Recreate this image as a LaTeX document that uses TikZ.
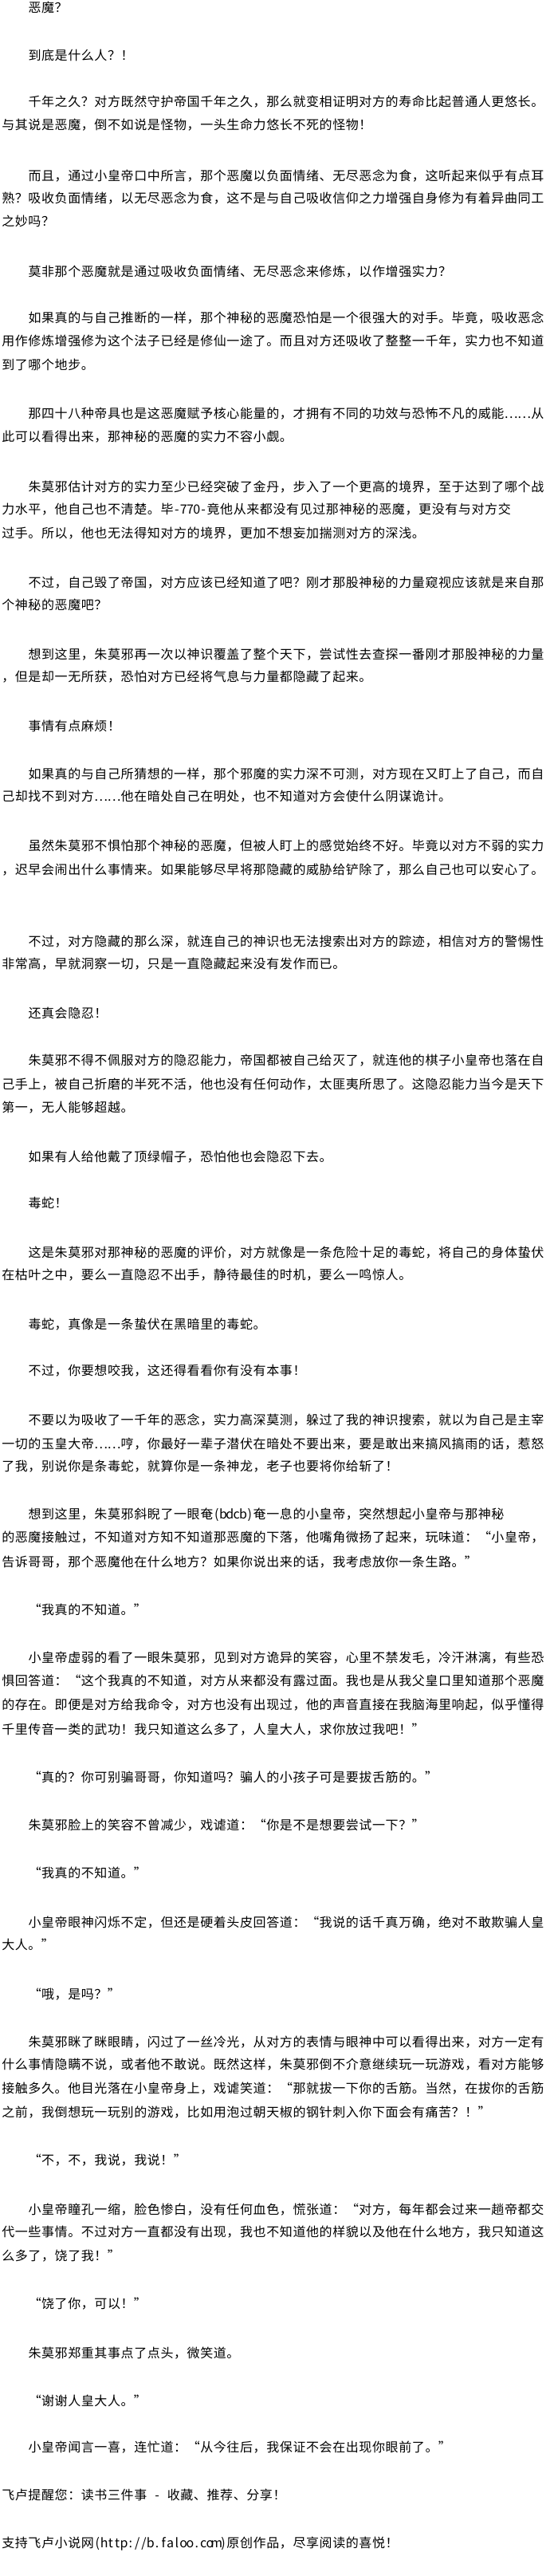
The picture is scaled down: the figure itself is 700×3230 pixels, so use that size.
\documentclass[tikz,border=0pt]{standalone}
\usepackage{fontspec}
\newfontfamily\cjk{Noto Sans CJK SC}
\newdimen\fw \fw=16.6pt
\newdimen\hw \hw=8.3pt
\def\hsp{\relax}
\makeatletter
\def\gl#1{\gl@a#1\relax}
\def\gl@a#1{\ifx\relax#1\else\gl@c{#1}\expandafter\gl@a\fi}
\def\gl@c#1{\ifx\hsp#1\hbox to\hw{}\else
  \ifnum`#1<256 \hbox to\hw{\hss#1\hss}\else
  \ifnum`#1=8220 \hbox to\fw{\hss#1}\else
  \ifnum`#1=8221 \hbox to\fw{#1\hss}\else
  \hbox to\fw{\hss#1\hss}\fi\fi\fi\fi}
\makeatother
\tikzset{
  txt/.style={anchor=base west, inner sep=0pt, outer sep=0pt, yshift=-6pt,
    font=\cjk\fontsize{16}{16}\selectfont, text=black}
}
\newcommand\Pl[3]{\node[txt] (#1) at (35.2pt,-#2pt) {\gl{#3}};}
\newcommand\Cl[3]{\node[txt] (#1) at (2pt,-#2pt) {\gl{#3}};}
\begin{document}
\begin{tikzpicture}
\fill[white] (0,0) rectangle (700pt,-3230pt);
\useasboundingbox (0,0) rectangle (700pt,-3230pt);
\Pl{l1}{10}{恶魔？}
\Pl{l2}{70}{到底是什么人？！}
\Pl{l3}{128}{千年之久？对方既然守护帝国千年之久，那么就变相证明对方的寿命比起普通人更悠长。}
\Cl{l4}{157}{与其说是恶魔，倒不如说是怪物，一头生命力悠长不死的怪物！}
\Pl{l5}{220}{而且，通过小皇帝口中所言，那个恶魔以负面情绪、无尽恶念为食，这听起来似乎有点耳}
\Cl{l6}{248}{熟？吸收负面情绪，以无尽恶念为食，这不是与自己吸收信仰之力增强自身修为有着异曲同工}
\Cl{l7}{277}{之妙吗？}
\Pl{l8}{340}{莫非那个恶魔就是通过吸收负面情绪、无尽恶念来修炼，以作增强实力？}
\Pl{l9}{398}{如果真的与自己推断的一样，那个神秘的恶魔恐怕是一个很强大的对手。毕竟，吸收恶念}
\Cl{l10}{427}{用作修炼增强修为这个法子已经是修仙一途了。而且对方还吸收了整整一千年，实力也不知道}
\Cl{l11}{457}{到了哪个地步。}
\Pl{l12}{518}{那四十八种帝具也是这恶魔赋予核心能量的，才拥有不同的功效与恐怖不凡的威能……从}
\Cl{l13}{547}{此可以看得出来，那神秘的恶魔的实力不容小觑。}
\Pl{l14}{610}{朱莫邪估计对方的实力至少已经突破了金丹，步入了一个更高的境界，至于达到了哪个战}
\Cl{l15}{638}{力水平，他自己也不清楚。毕-770-竟他从来都没有见过那神秘的恶魔，更没有与对方交}
\Cl{l16}{668}{过手。所以，他也无法得知对方的境界，更加不想妄加揣测对方的深浅。}
\Pl{l17}{730}{不过，自己毁了帝国，对方应该已经知道了吧？刚才那股神秘的力量窥视应该就是来自那}
\Cl{l18}{758}{个神秘的恶魔吧？}
\Pl{l19}{820}{想到这里，朱莫邪再一次以神识覆盖了整个天下，尝试性去查探一番刚才那股神秘的力量}
\Cl{l20}{848}{，但是却一无所获，恐怕对方已经将气息与力量都隐藏了起来。}
\Pl{l21}{910}{事情有点麻烦！}
\Pl{l22}{970}{如果真的与自己所猜想的一样，那个邪魔的实力深不可测，对方现在又盯上了自己，而自}
\Cl{l23}{998}{己却找不到对方……他在暗处自己在明处，也不知道对方会使什么阴谋诡计。}
\Pl{l24}{1060}{虽然朱莫邪不惧怕那个神秘的恶魔，但被人盯上的感觉始终不好。毕竟以对方不弱的实力}
\Cl{l25}{1090}{，迟早会闹出什么事情来。如果能够尽早将那隐藏的威胁给铲除了，那么自己也可以安心了。}
\Pl{l26}{1180}{不过，对方隐藏的那么深，就连自己的神识也无法搜索出对方的踪迹，相信对方的警惕性}
\Cl{l27}{1208}{非常高，早就洞察一切，只是一直隐藏起来没有发作而已。}
\Pl{l28}{1270}{还真会隐忍！}
\Pl{l29}{1329}{朱莫邪不得不佩服对方的隐忍能力，帝国都被自己给灭了，就连他的棋子小皇帝也落在自}
\Cl{l30}{1359}{己手上，被自己折磨的半死不活，他也没有任何动作，太匪夷所思了。这隐忍能力当今是天下}
\Cl{l31}{1388}{第一，无人能够超越。}
\Pl{l32}{1450}{如果有人给他戴了顶绿帽子，恐怕他也会隐忍下去。}
\Pl{l33}{1508}{毒蛇！}
\Pl{l34}{1570}{这是朱莫邪对那神秘的恶魔的评价，对方就像是一条危险十足的毒蛇，将自己的身体蛰伏}
\Cl{l35}{1598}{在枯叶之中，要么一直隐忍不出手，静待最佳的时机，要么一鸣惊人。}
\Pl{l36}{1660}{毒蛇，真像是一条蛰伏在黑暗里的毒蛇。}
\Pl{l37}{1718}{不过，你要想咬我，这还得看看你有没有本事！}
\Pl{l38}{1780}{不要以为吸收了一千年的恶念，实力高深莫测，躲过了我的神识搜索，就以为自己是主宰}
\Cl{l39}{1810}{一切的玉皇大帝……哼，你最好一辈子潜伏在暗处不要出来，要是敢出来搞风搞雨的话，惹怒}
\Cl{l40}{1838}{了我，别说你是条毒蛇，就算你是一条神龙，老子也要将你给斩了！}
\Pl{l41}{1898}{想到这里，朱莫邪斜睨了一眼奄(bdcb)奄一息的小皇帝，突然想起小皇帝与那神秘}
\Cl{l42}{1927}{的恶魔接触过，不知道对方知不知道那恶魔的下落，他嘴角微扬了起来，玩味道：“小皇帝，}
\Cl{l43}{1958}{告诉哥哥，那个恶魔他在什么地方？如果你说出来的话，我考虑放你一条生路。”}
\Pl{l44}{2018}{“我真的不知道。”}
\Pl{l45}{2078}{小皇帝虚弱的看了一眼朱莫邪，见到对方诡异的笑容，心里不禁发毛，冷汗淋漓，有些恐}
\Cl{l46}{2107}{惧回答道：“这个我真的不知道，对方从来都没有露过面。我也是从我父皇口里知道那个恶魔}
\Cl{l47}{2137}{的存在。即便是对方给我命令，对方也没有出现过，他的声音直接在我脑海里响起，似乎懂得}
\Cl{l48}{2168}{千里传音一类的武功！我只知道这么多了，人皇大人，求你放过我吧！”}
\Pl{l49}{2228}{“真的？你可别骗哥哥，你知道吗？骗人的小孩子可是要拔舌筋的。”}
\Pl{l50}{2288}{朱莫邪脸上的笑容不曾减少，戏谑道：“你是不是想要尝试一下？”}
\Pl{l51}{2348}{“我真的不知道。”}
\Pl{l52}{2410}{小皇帝眼神闪烁不定，但还是硬着头皮回答道：“我说的话千真万确，绝对不敢欺骗人皇}
\Cl{l53}{2438}{大人。”}
\Pl{l54}{2500}{“哦，是吗？”}
\Pl{l55}{2560}{朱莫邪眯了眯眼睛，闪过了一丝冷光，从对方的表情与眼神中可以看得出来，对方一定有}
\Cl{l56}{2588}{什么事情隐瞒不说，或者他不敢说。既然这样，朱莫邪倒不介意继续玩一玩游戏，看对方能够}
\Cl{l57}{2618}{接触多久。他目光落在小皇帝身上，戏谑笑道：“那就拔一下你的舌筋。当然，在拔你的舌筋}
\Cl{l58}{2648}{之前，我倒想玩一玩别的游戏，比如用泡过朝天椒的钢针刺入你下面会有痛苦？！”}
\Pl{l59}{2708}{“不，不，我说，我说！”}
\Pl{l60}{2770}{小皇帝瞳孔一缩，脸色惨白，没有任何血色，慌张道：“对方，每年都会过来一趟帝都交}
\Cl{l61}{2798}{代一些事情。不过对方一直都没有出现，我也不知道他的样貌以及他在什么地方，我只知道这}
\Cl{l62}{2828}{么多了，饶了我！”}
\Pl{l63}{2888}{“饶了你，可以！”}
\Pl{l64}{2950}{朱莫邪郑重其事点了点头，微笑道。}
\Pl{l65}{3010}{“谢谢人皇大人。”}
\Pl{l66}{3068}{小皇帝闻言一喜，连忙道：“从今往后，我保证不会在出现你眼前了。”}
\Cl{l67}{3128}{飞卢提醒您：读书三件事\hsp -\hsp 收藏、推荐、分享！}
\Cl{l68}{3188}{支持飞卢小说网(http://b.faloo.com)原创作品，尽享阅读的喜悦！}
\end{tikzpicture}
\end{document}
